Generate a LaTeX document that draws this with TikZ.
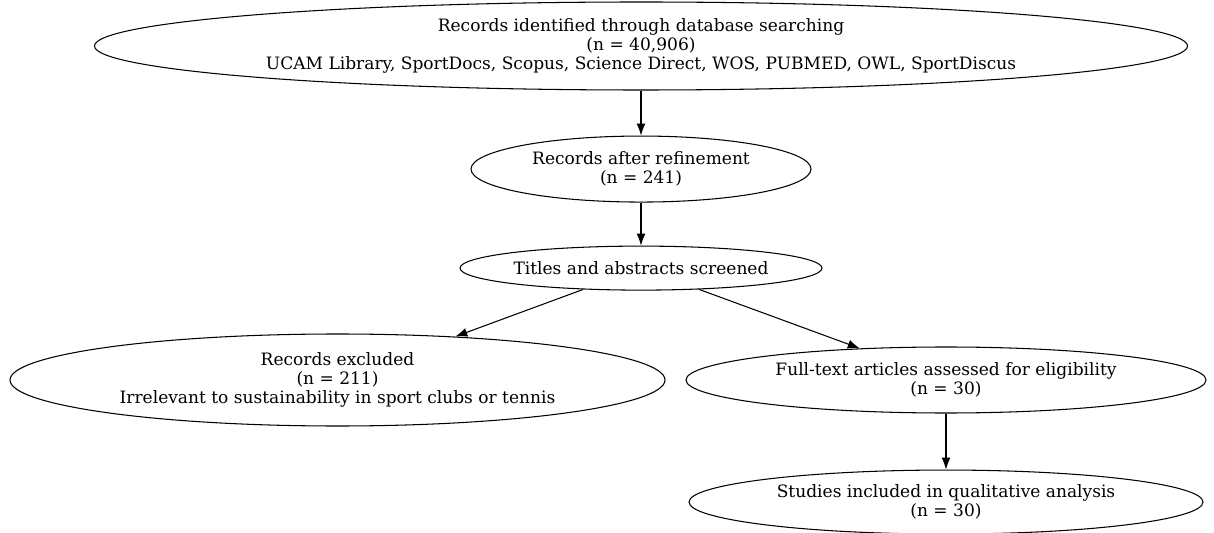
\documentclass[tikz,border=0pt]{standalone}
\usepackage{fontspec}
\setmainfont{DejaVu Serif}
\usetikzlibrary{positioning,shapes.geometric,arrows.meta}

\begin{document}
\begin{tikzpicture}[>={Latex[length=0.24cm,width=0.18cm]}, line width=0.6pt, font=\fontsize{9.7}{10.8}\selectfont] %Flow diagram
    \tikzstyle{record} = [ellipse, draw, inner sep=0pt, text centered, align=center]
    \useasboundingbox (0,0) rectangle (24.28,-10.66);
    \node[record, minimum width=21.86cm, minimum height=1.76cm] (R0) at (12.82,-0.92) {Records identified through database searching\\(n = 40,906)\\UCAM Library, SportDocs, Scopus, Science Direct, WOS, PUBMED, OWL, SportDiscus};
    \node[record, minimum width=6.8cm, minimum height=1.32cm, below=0.9cm of R0] (R1) {Records after refinement\\(n = 241)};
    \node[record, minimum width=7.24cm, minimum height=0.88cm, below=0.86cm of R1] (R2) {Titles and abstracts screened};
    \node[record, minimum width=13.1cm, minimum height=1.84cm] (R3) at (6.75,-7.6) {Records excluded\\(n = 211)\\Irrelevant to sustainability in sport clubs or tennis};
    \node[record, minimum width=10.4cm, minimum height=1.32cm] (R4) at (18.92,-7.6) {Full-text articles assessed for eligibility\\(n = 30)};
    \node[record, minimum width=10.28cm, minimum height=1.28cm, below=1.12cm of R4] (R5) {Studies included in qualitative analysis\\(n = 30)};
    \foreach \a/\b in {R0/R1,R1/R2,R2/R3,R2/R4,R4/R5}
    {
        \draw[->] (\a) -- (\b);
    }
\end{tikzpicture}
\end{document}
